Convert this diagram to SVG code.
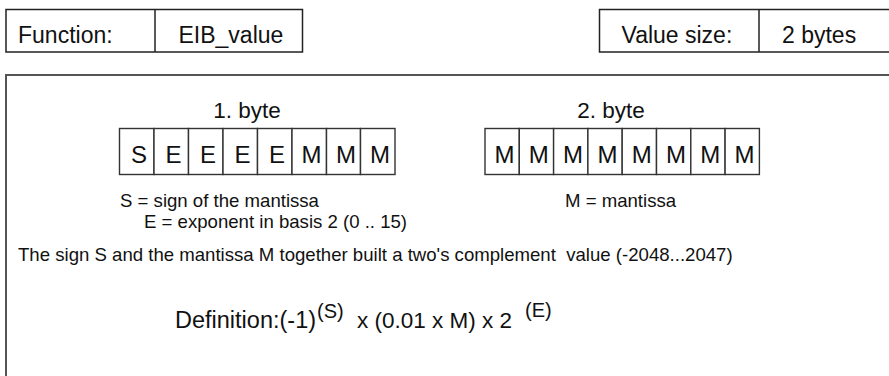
<svg xmlns="http://www.w3.org/2000/svg" width="889" height="376" viewBox="0 0 889 376">
  <style>
    text { font-family: "Liberation Sans", Arial, sans-serif; fill: #111; }
    .hdr { font-size: 23px; }
    .lbl { font-size: 22.5px; }
    .def { font-size: 23.5px; }
    .cell-t { font-size: 24px; text-anchor: middle; }
    .small { font-size: 18.6px; }
    .sup { font-size: 20px; }
    .box { fill: #fff; stroke: #222; stroke-width: 1.5; }
    .cell { fill: #fff; stroke: #333; stroke-width: 1.4; }
    .frame { fill: none; stroke: #555; stroke-width: 2; }
  </style>
  <rect width="889" height="376" fill="#fff"/>

  <g id="function-box">
    <rect class="box" x="6" y="9.5" width="296.5" height="42.5"/>
    <line x1="155" y1="9.5" x2="155" y2="52" stroke="#222" stroke-width="1.5"/>
    <text class="hdr" x="18" y="42.5">Function:</text>
    <text class="hdr" x="178.5" y="42.5">EIB_value</text>
  </g>

  <g id="value-size-box">
    <rect class="box" x="599.5" y="9.5" width="300" height="42.5"/>
    <line x1="759" y1="9.5" x2="759" y2="52" stroke="#222" stroke-width="1.5"/>
    <text class="hdr" x="621.5" y="42.5">Value size:</text>
    <text class="hdr" x="782" y="42.5">2 bytes</text>
  </g>

  <g id="frame">
    <path class="frame" d="M6,390 V75 H900"/>
  </g>

  <g id="byte1">
    <text class="lbl" x="247" y="118" text-anchor="middle">1. byte</text>
    <rect class="cell" x="119.5" y="128.5" width="34.5" height="46"/>
    <rect class="cell" x="154" y="128.5" width="34.5" height="46"/>
    <rect class="cell" x="188.5" y="128.5" width="34.5" height="46"/>
    <rect class="cell" x="223" y="128.5" width="34.5" height="46"/>
    <rect class="cell" x="257.5" y="128.5" width="34.5" height="46"/>
    <rect class="cell" x="292" y="128.5" width="34.5" height="46"/>
    <rect class="cell" x="326.5" y="128.5" width="34" height="46"/>
    <rect class="cell" x="360.5" y="128.5" width="34.5" height="46"/>
    <text class="cell-t" x="139" y="162.5">S</text>
    <text class="cell-t" x="173.5" y="162.5">E</text>
    <text class="cell-t" x="208" y="162.5">E</text>
    <text class="cell-t" x="242.5" y="162.5">E</text>
    <text class="cell-t" x="277" y="162.5">E</text>
    <text class="cell-t" x="311.5" y="162.5">M</text>
    <text class="cell-t" x="346" y="162.5">M</text>
    <text class="cell-t" x="380" y="162.5">M</text>
  </g>

  <g id="byte2">
    <text class="lbl" x="611" y="118" text-anchor="middle">2. byte</text>
    <rect class="cell" x="485" y="128.5" width="34.3" height="46"/>
    <rect class="cell" x="519.3" y="128.5" width="34.3" height="46"/>
    <rect class="cell" x="553.6" y="128.5" width="34.3" height="46"/>
    <rect class="cell" x="587.9" y="128.5" width="34.3" height="46"/>
    <rect class="cell" x="622.2" y="128.5" width="34.3" height="46"/>
    <rect class="cell" x="656.5" y="128.5" width="34.3" height="46"/>
    <rect class="cell" x="690.8" y="128.5" width="34.3" height="46"/>
    <rect class="cell" x="725.1" y="128.5" width="34.3" height="46"/>
    <text class="cell-t" x="504.5" y="162.5">M</text>
    <text class="cell-t" x="538.8" y="162.5">M</text>
    <text class="cell-t" x="573.1" y="162.5">M</text>
    <text class="cell-t" x="607.4" y="162.5">M</text>
    <text class="cell-t" x="641.7" y="162.5">M</text>
    <text class="cell-t" x="676" y="162.5">M</text>
    <text class="cell-t" x="710.3" y="162.5">M</text>
    <text class="cell-t" x="744.6" y="162.5">M</text>
  </g>

  <g id="legend">
    <text class="small" x="120" y="207">S = sign of the mantissa</text>
    <text class="small" x="144" y="228">E = exponent in basis 2 (0 .. 15)</text>
    <text class="small" x="565" y="207">M = mantissa</text>
  </g>

  <g id="note">
    <text class="small" x="18" y="261" xml:space="preserve">The sign S and the mantissa M together built a two's complement  value (-2048...2047)</text>
  </g>

  <g id="definition">
    <text class="def" x="175" y="328">Definition:(-1)</text>
    <text class="sup" x="317" y="318">(S)</text>
    <text class="lbl" x="357" y="328">x (0.01 x M) x 2</text>
    <text class="sup" x="525" y="317">(E)</text>
  </g>
</svg>
